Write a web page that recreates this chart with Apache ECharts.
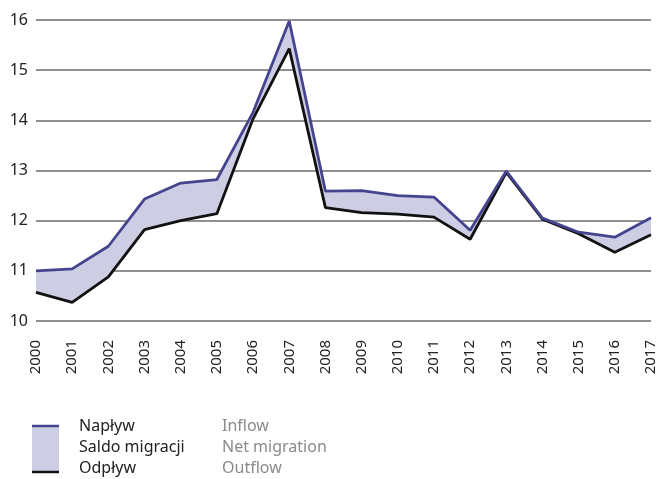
<!DOCTYPE html>
<html>
<head>
<meta charset="utf-8">
<script src="https://cdn.jsdelivr.net/npm/echarts@6/dist/echarts.min.js"></script>
<style>
  html, body { margin: 0; padding: 0; background: #fff; }
  #chart { width: 659px; height: 479px; }
</style>
</head>
<body>
<div id="chart"></div>
<script>
// lata
const years = ['2000','2001','2002','2003','2004','2005','2006','2007','2008',
  '2009','2010','2011','2012','2013','2014','2015','2016','2017']
// napływ (inflow)
const inflow = [11.0, 11.04, 11.49, 12.43, 12.75, 12.82, 14.16, 15.98, 12.59,
  12.60, 12.50, 12.47, 11.81, 12.99, 12.05, 11.77, 11.67, 12.06]
// odpływ (outflow)
const outflow = [10.57, 10.37, 10.88, 11.82, 12.0, 12.14, 14.03, 15.43, 12.26,
  12.16, 12.13, 12.07, 11.63, 12.96, 12.03, 11.74, 11.37, 11.72]
const yTicks = [10, 11, 12, 13, 14, 15, 16]

const blue = '#45458f'
const lavender = '#cdcde3'
const font = 'Noto Sans'
const legendFont = '16px "Noto Sans"'

// saldo = różnica napływ - odpływ, nakładana na odpływ
const saldo = inflow.map((v, i) => +(v - outflow[i]).toFixed(3))

const chart = echarts.init(document.getElementById('chart'), null, { renderer: 'canvas' })
chart.setOption({
  animation: false,
  grid: { left: 36, right: 8, top: 20, bottom: 158 },
  xAxis: {
    type: 'category',
    data: years,
    boundaryGap: false,
    axisLine: { show: false },
    axisTick: { show: false },
    axisLabel: { rotate: 90, margin: 19, fontFamily: font, fontSize: 15, color: '#222' }
  },
  yAxis: {
    type: 'value',
    min: yTicks[0],
    max: yTicks[yTicks.length - 1],
    interval: 1,
    axisLine: { show: false },
    axisTick: { show: false },
    axisLabel: { margin: 8, fontFamily: font, fontSize: 16, color: '#222' },
    splitLine: { lineStyle: { color: '#6a6a6a', width: 1.5 } }
  },
  series: [
    {
      name: 'base',
      type: 'line',
      stack: 'saldo',
      data: outflow,
      symbol: 'none',
      lineStyle: { opacity: 0 },
      silent: true
    },
    {
      name: 'Saldo migracji',
      type: 'line',
      stack: 'saldo',
      data: saldo,
      symbol: 'none',
      lineStyle: { opacity: 0 },
      areaStyle: { color: lavender, opacity: 1 },
      silent: true
    },
    {
      name: 'Odpływ',
      type: 'line',
      data: outflow,
      symbol: 'none',
      lineStyle: { color: '#111', width: 2.8 }
    },
    {
      name: 'Napływ',
      type: 'line',
      data: inflow,
      symbol: 'none',
      lineStyle: { color: blue, width: 2.8 }
    }
  ],
  graphic: [
    // legenda
    { type: 'rect', shape: { x: 32, y: 426, width: 27, height: 46 }, style: { fill: lavender } },
    { type: 'line', shape: { x1: 32, y1: 426, x2: 59, y2: 426 }, style: { stroke: blue, lineWidth: 2.5 } },
    { type: 'line', shape: { x1: 32, y1: 472, x2: 59, y2: 472 }, style: { stroke: '#111', lineWidth: 2.5 } },
    { type: 'text', x: 79, y: 426, style: { text: 'Napływ', font: legendFont, fill: '#222', verticalAlign: 'middle' } },
    { type: 'text', x: 79, y: 447, style: { text: 'Saldo migracji', font: legendFont, fill: '#222', verticalAlign: 'middle' } },
    { type: 'text', x: 79, y: 468, style: { text: 'Odpływ', font: legendFont, fill: '#222', verticalAlign: 'middle' } },
    { type: 'text', x: 222, y: 426, style: { text: 'Inflow', font: legendFont, fill: '#8a8a8a', verticalAlign: 'middle' } },
    { type: 'text', x: 222, y: 447, style: { text: 'Net migration', font: legendFont, fill: '#8a8a8a', verticalAlign: 'middle' } },
    { type: 'text', x: 222, y: 468, style: { text: 'Outflow', font: legendFont, fill: '#8a8a8a', verticalAlign: 'middle' } }
  ]
})
</script>
</body>
</html>
